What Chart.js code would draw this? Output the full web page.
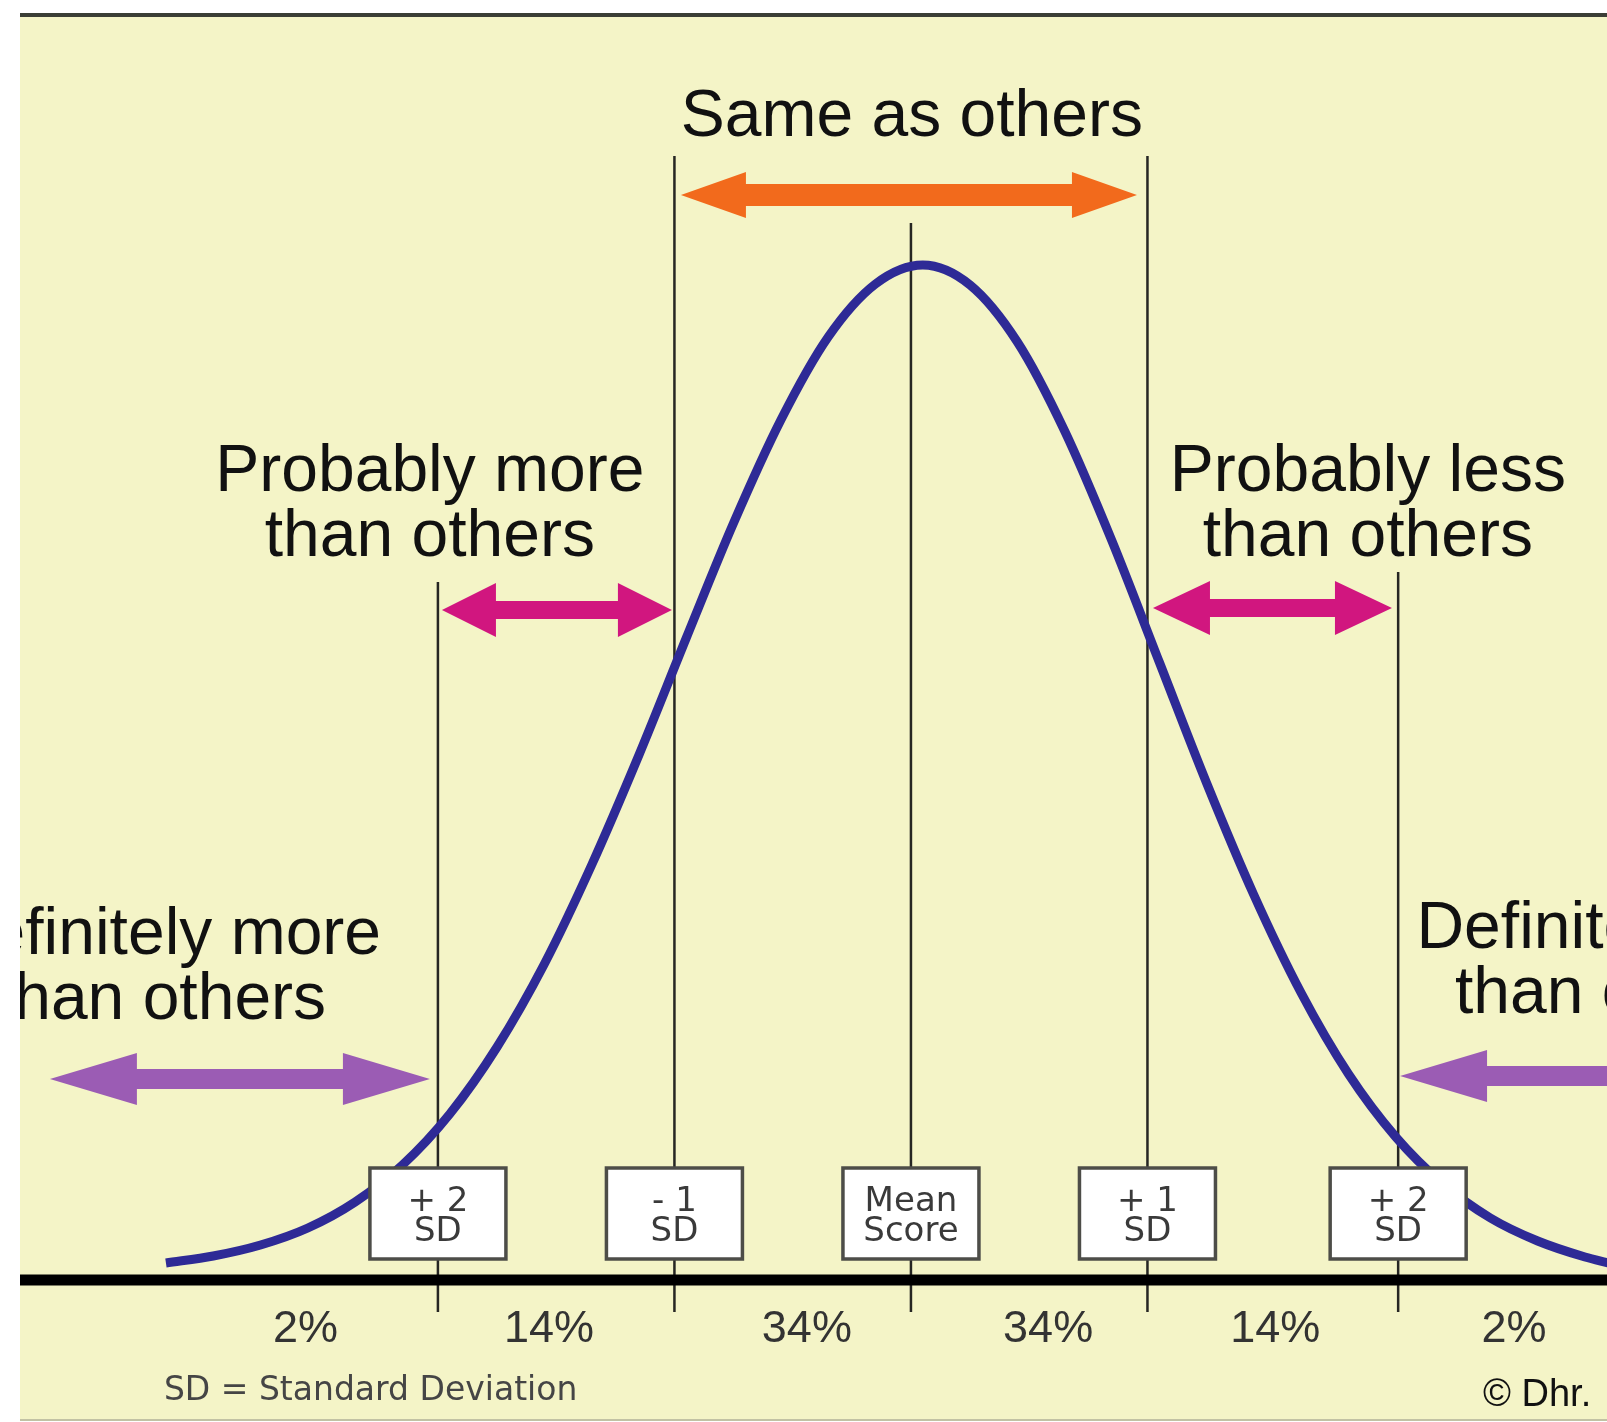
<!DOCTYPE html>
<html>
<head>
<meta charset="utf-8">
<style>
html,body{margin:0;padding:0;background:#fff;}
#wrap{width:1607px;height:1422px;}
</style>
<script src="https://cdn.jsdelivr.net/npm/chart.js@4.4.0/dist/chart.umd.min.js"></script>
</head>
<body>
<div id="wrap"><canvas id="bell" width="1607" height="1422"></canvas></div>
<script>
// --- valeurs (x en écarts-types, y en hauteur de courbe) ---
const curveX = [-3.15,-2.95,-2.75,-2.55,-2.35,-2.15,-1.95,-1.75,-1.55,-1.35,-1.15,-0.95,-0.75,-0.55,-0.35,-0.15,0.05,0.25,0.45,0.65,0.85,1.05,1.25,1.45,1.65,1.85,2.05,2.25,2.45,2.65,2.85,2.95];
const curveY = [1.7,2.4,3.5,5.2,7.8,11.5,16.6,23.3,31.6,41.5,52.5,64.2,75.7,86.0,94.3,99.6,101.5,99.5,93.8,84.9,73.9,61.8,49.7,38.5,28.7,20.6,14.3,9.6,6.2,3.9,2.3,1.7];
const sdMarks = [-2, -1, 0, 1, 2.06];
const sdLineTop = [69.8, 112.4, 105.7, 112.4, 70.8];
const sdLabels = [['+ 2','SD'], ['- 1','SD'], ['Mean','Score'], ['+ 1','SD'], ['+ 2','SD']];
const pctX = [-2.56, -1.53, -0.44, 0.58, 1.54, 2.55];
const pctLabels = ['2%','14%','34%','34%','14%','2%'];
const zoneTitles = [['Same as others'], ['Probably more','than others'], ['Probably less','than others'], ['Definitely more','than others'], ['Definitely less','than others']];
const zoneX = [0.004, -2.034, 1.932, -3.171, 2.998];
const zoneY = [114.4, 78.9, 78.9, 32.6, 33.2];

// flèches : de x1 à x2 (écarts-types), hauteur y
const arrowX1 = [-0.9725, -1.983, 1.0233, -3.6406, 2.068];
const arrowX2 = [0.9556, -1.0106, 2.0338, -2.0338, 3.4];
const arrowY = [108.5, 67.0, 67.2, 20.1, 20.4];

const xMin = -3.767, xMax = 2.943, yMin = -13.9, yMax = 126.3;

const arrowStyle = [
  {color:'#f26a1c', shaft:22, head:65, half:23},
  {color:'#d1167f', shaft:18, head:54, half:27},
  {color:'#d1167f', shaft:18, head:57, half:27},
  {color:'#9b5cb4', shaft:20, head:87, half:26},
  {color:'#9b5cb4', shaft:20, head:87, half:26}
];

const FONT = '"Liberation Sans", Arial, sans-serif';
const SMALL = '"DejaVu Sans", Verdana, sans-serif';

function drawArrow(ctx, x1, x2, y, s) {
  ctx.fillStyle = s.color;
  ctx.beginPath();
  ctx.moveTo(x1, y);
  ctx.lineTo(x1 + s.head, y - s.half);
  ctx.lineTo(x1 + s.head, y - s.shaft/2);
  ctx.lineTo(x2 - s.head, y - s.shaft/2);
  ctx.lineTo(x2 - s.head, y - s.half);
  ctx.lineTo(x2, y);
  ctx.lineTo(x2 - s.head, y + s.half);
  ctx.lineTo(x2 - s.head, y + s.shaft/2);
  ctx.lineTo(x1 + s.head, y + s.shaft/2);
  ctx.lineTo(x1 + s.head, y + s.half);
  ctx.closePath();
  ctx.fill();
}

const background = {
  id:'background',
  beforeDraw(chart) {
    const {ctx, chartArea:a} = chart;
    ctx.save();
    ctx.fillStyle = '#fff';
    ctx.fillRect(0, 0, chart.width, chart.height);
    ctx.fillStyle = '#f4f4c7';
    ctx.fillRect(a.left, a.top, a.right - a.left, a.bottom - a.top);
    ctx.fillStyle = '#3b3e36';
    ctx.fillRect(a.left, a.top - 4, a.right - a.left, 4);
    ctx.fillStyle = '#c2c2a4';
    ctx.fillRect(a.left, a.bottom, a.right - a.left, 2);
    ctx.restore();
  }
};

const annotations = {
  id:'annotations',
  afterDatasetsDraw(chart) {
    const {ctx, chartArea:a, scales:{x, y}} = chart;
    ctx.save();
    ctx.beginPath();
    ctx.rect(a.left, a.top, a.right - a.left, a.bottom - a.top);
    ctx.clip();

    // flèches
    arrowX1.forEach((v, i) => {
      drawArrow(ctx, x.getPixelForValue(v), x.getPixelForValue(arrowX2[i]), y.getPixelForValue(arrowY[i]), arrowStyle[i]);
    });

    // boîtes SD
    sdMarks.forEach((m, i) => {
      const cx = x.getPixelForValue(m), top = y.getPixelForValue(11.2), bot = y.getPixelForValue(2.1);
      const w = 136;
      ctx.fillStyle = '#fff';
      ctx.fillRect(cx - w/2, top, w, bot - top);
      ctx.strokeStyle = '#4d4d48';
      ctx.lineWidth = 3.5;
      ctx.strokeRect(cx - w/2, top, w, bot - top);
      ctx.fillStyle = '#3a3a3a';
      ctx.font = '34px ' + SMALL;
      ctx.textAlign = 'center';
      ctx.textBaseline = 'alphabetic';
      ctx.fillText(sdLabels[i][0], cx, top + 43);
      ctx.fillText(sdLabels[i][1], cx, top + 73);
    });

    // titres des zones
    ctx.fillStyle = '#111';
    ctx.font = '66px ' + FONT;
    zoneTitles.forEach((lines, i) => {
      const px = x.getPixelForValue(zoneX[i]), py = y.getPixelForValue(zoneY[i]);
      lines.forEach((t, k) => ctx.fillText(t, px, py + k*65));
    });

    // pourcentages
    ctx.fillStyle = '#333';
    ctx.font = '45px ' + FONT;
    pctLabels.forEach((t, i) => ctx.fillText(t, x.getPixelForValue(pctX[i]), y.getPixelForValue(-6.2)));

    // notes du bas
    ctx.textAlign = 'left';
    ctx.fillStyle = '#454545';
    ctx.font = '33px ' + SMALL;
    ctx.fillText('SD = Standard Deviation', x.getPixelForValue(-3.1586), y.getPixelForValue(-12.0));
    ctx.fillStyle = '#111';
    ctx.font = '38px ' + FONT;
    ctx.fillText('© Dhr.', x.getPixelForValue(2.4186), y.getPixelForValue(-12.6));
    ctx.restore();
  }
};

const datasets = [
  { label:'Courbe', data:curveX.map((v, i) => ({x:v, y:curveY[i]})), borderColor:'#2e2a96', borderWidth:9, cubicInterpolationMode:'monotone', pointRadius:0, fill:false, clip:0, order:0, borderCapStyle:'butt' },
  { label:'Axe', data:[{x:xMin, y:0}, {x:xMax, y:0}], borderColor:'#000', borderWidth:11, pointRadius:0, fill:false, clip:0, order:1 }
];
sdMarks.forEach((m, i) => {
  datasets.push({ label:'SD ' + i, data:[{x:m, y:sdLineTop[i]}, {x:m, y:-3.2}], borderColor:'#262623', borderWidth:2.5, pointRadius:0, fill:false, order:2 });
});

new Chart(document.getElementById('bell'), {
  type:'line',
  data:{ datasets },
  options:{
    responsive:false, animation:false, devicePixelRatio:1, events:[],
    layout:{ padding:{ left:20, top:17, right:0, bottom:3 } },
    plugins:{ legend:{ display:false }, tooltip:{ enabled:false } },
    scales:{
      x:{ type:'linear', min:xMin, max:xMax, display:false },
      y:{ type:'linear', min:yMin, max:yMax, display:false }
    }
  },
  plugins:[background, annotations]
});
</script>
</body>
</html>
